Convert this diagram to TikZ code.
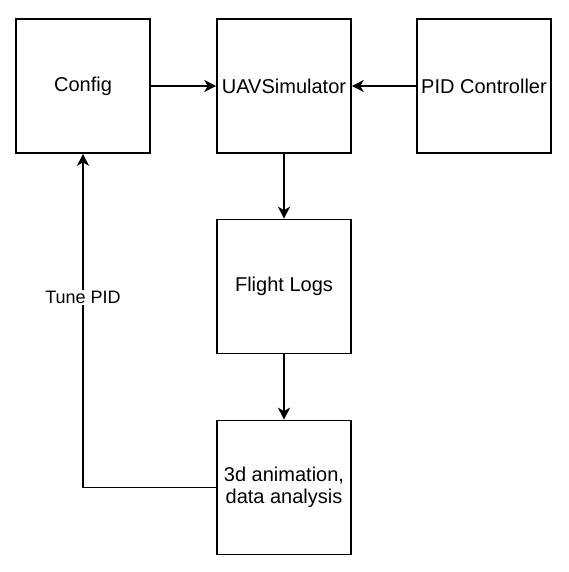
\documentclass[tikz,border=0pt]{standalone}
\usepackage{fontspec}
\setmainfont{Liberation Sans}
\usetikzlibrary{arrows.meta}
\begin{document}
\begin{tikzpicture}[x=1pt,y=-1pt,
  blk/.style={draw=black,line width=1.6pt,minimum width=134pt,minimum height=134pt,inner sep=0pt,align=center,font=\fontsize{20}{22}\selectfont},
  conn/.style={line width=1.6pt,-{Stealth[length=12pt,width=12pt,inset=3.5pt]}},
  lbl/.style={fill=white,inner sep=1.5pt,font=\fontsize{18}{21}\selectfont}]
\useasboundingbox (0,0) rectangle (568,572);
\node[blk] (cfg) at (83,86) {Config};
\node[blk] (uav) at (284,86) {UAVSimulator};
\node[blk] (pid) at (484,86) {PID Controller};
\node[blk] (fl) at (284,286.5) {Flight Logs};
\node[blk] (ana) at (284,487.5) {3d animation,\\data analysis};
\coordinate (corner) at (cfg.south |- ana.west);
\draw[conn] (cfg.east) -- (uav.west);
\draw[conn] (pid.west) -- (uav.east);
\draw[conn] (uav.south) -- (fl.north);
\draw[conn] (fl.south) -- (ana.north);
\draw[conn] (ana.west) -- (corner) -- (cfg.south) node[lbl,pos=0.57] {Tune PID};
\end{tikzpicture}
\end{document}
